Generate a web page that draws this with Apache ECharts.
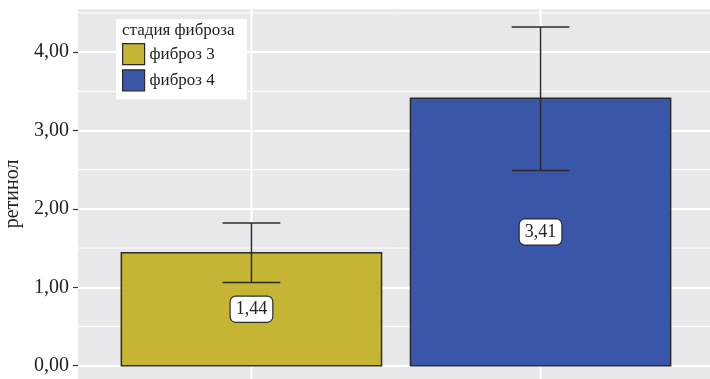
<!DOCTYPE html>
<html><head><meta charset="utf-8">
<script src="https://cdn.jsdelivr.net/npm/echarts@6/dist/echarts.min.js"></script>
<style>html,body{margin:0;padding:0;background:#fff}#c{width:710px;height:379px}</style>
</head><body><div id="c"></div>
<script>
var categories = ['фиброз 3', 'фиброз 4'];
var means = [1.44, 3.41];
var lowers = [1.06, 2.49];
var uppers = [1.82, 4.32];
var meanLabels = ['1,44', '3,41'];
var barColors = ['#C6B535', '#3A56A8'];
var majorTicks = [0, 1, 2, 3, 4];
var minorTicks = [0.5, 1.5, 2.5, 3.5, 4.5];
var tickLabels = ['0,00', '1,00', '2,00', '3,00', '4,00'];
var legendTitle = 'стадия фиброза';
var yName = 'ретинол';

var FONT = 'Liberation Serif';
var chart = echarts.init(document.getElementById('c'));

function gridLineSeries(name, data, vertical, width) {
  return {
    type: 'custom', name: name, silent: true, z: 1,
    data: data.map(function (v) { return [v]; }),
    renderItem: function (params, api) {
      var cs = params.coordSys;
      var v = api.value(0);
      var shape;
      if (vertical) {
        var x = api.coord([v, 0])[0];
        shape = { x1: x, y1: cs.y, x2: x, y2: cs.y + cs.height };
      } else {
        var y = api.coord([1, v])[1];
        shape = { x1: cs.x, y1: y, x2: cs.x + cs.width, y2: y };
      }
      return { type: 'line', shape: shape, style: { stroke: '#ffffff', lineWidth: width } };
    }
  };
}

var series = [
  gridLineSeries('vgrid', categories.map(function (c, i) { return i + 1; }), true, 2),
  gridLineSeries('hminor', minorTicks, false, 1)
];

categories.forEach(function (cat, i) {
  series.push({
    type: 'custom', name: cat, z: 5,
    itemStyle: { color: barColors[i] },
    data: [[i + 1, means[i], lowers[i], uppers[i]]],
    renderItem: function (params, api) {
      var x = api.value(0), m = api.value(1), lo = api.value(2), hi = api.value(3);
      var p0 = api.coord([x - 0.45, 0]);
      var p1 = api.coord([x + 0.45, m]);
      var cl = api.coord([x - 0.1, lo]);
      var cr = api.coord([x + 0.1, hi]);
      var mid = api.coord([x, m / 2]);
      var cx = api.coord([x, 0])[0];
      return {
        type: 'group',
        children: [
          { type: 'rect', shape: { x: p0[0], y: p1[1], width: p1[0] - p0[0], height: p0[1] - p1[1] },
            style: { fill: barColors[i], stroke: '#2b2b2b', lineWidth: 1.5 } },
          { type: 'line', shape: { x1: cx, y1: cr[1], x2: cx, y2: cl[1] }, style: { stroke: '#2b2b2b', lineWidth: 1.5 } },
          { type: 'line', shape: { x1: cl[0], y1: cr[1], x2: cr[0], y2: cr[1] }, style: { stroke: '#2b2b2b', lineWidth: 1.5 } },
          { type: 'line', shape: { x1: cl[0], y1: cl[1], x2: cr[0], y2: cl[1] }, style: { stroke: '#2b2b2b', lineWidth: 1.5 } },
          { type: 'text', x: mid[0], y: mid[1],
            style: { text: meanLabels[i], fontFamily: FONT, fontSize: 18, fill: '#222',
              align: 'center', verticalAlign: 'middle',
              backgroundColor: '#ffffff', borderColor: '#2b2b2b', borderWidth: 1.2, borderRadius: 5,
              padding: [4, 5, 3, 5] } }
        ]
      };
    }
  });
});

chart.setOption({
  animation: false,
  backgroundColor: '#ffffff',
  grid: { left: 78, right: -4, top: 9, bottom: 0, show: true, backgroundColor: '#E8E8EA', borderWidth: 0,
    containLabel: false, outerBoundsMode: 'none' },
  title: { text: legendTitle, left: 122, top: 22, padding: 0, z: 10,
    textStyle: { fontFamily: FONT, fontSize: 17, fontWeight: 'normal', color: '#222' } },
  legend: {
    orient: 'vertical', left: 116, top: 19, z: 8,
    backgroundColor: '#ffffff', padding: [24, 32, 8, 6],
    itemWidth: 22, itemHeight: 21, itemGap: 4,
    icon: 'rect',
    textStyle: { fontFamily: FONT, fontSize: 17, color: '#222' },
    data: categories.map(function (c, i) {
      return { name: c, itemStyle: { color: barColors[i], borderColor: '#2b2b2b', borderWidth: 1.2 } };
    })
  },
  xAxis: {
    type: 'value', min: 0.4, max: 2.6,
    axisLine: { show: false }, axisTick: { show: false }, axisLabel: { show: false }, splitLine: { show: false }
  },
  yAxis: {
    type: 'value', min: -0.17, max: 4.55,
    name: yName, nameLocation: 'middle', nameGap: 52, nameRotate: 90,
    nameTextStyle: { fontFamily: FONT, fontSize: 20, color: '#222' },
    axisLine: { show: false },
    axisTick: { show: true, length: 5, customValues: majorTicks, lineStyle: { color: '#333', width: 1.2 } },
    axisLabel: { customValues: majorTicks, margin: 9, fontFamily: FONT, fontSize: 20, color: '#222',
      formatter: function (v) { return tickLabels[majorTicks.indexOf(Math.round(v * 100) / 100)]; } },
    splitLine: { show: true, lineStyle: { color: '#ffffff', width: 2 } }
  },
  series: series
});
</script></body></html>
